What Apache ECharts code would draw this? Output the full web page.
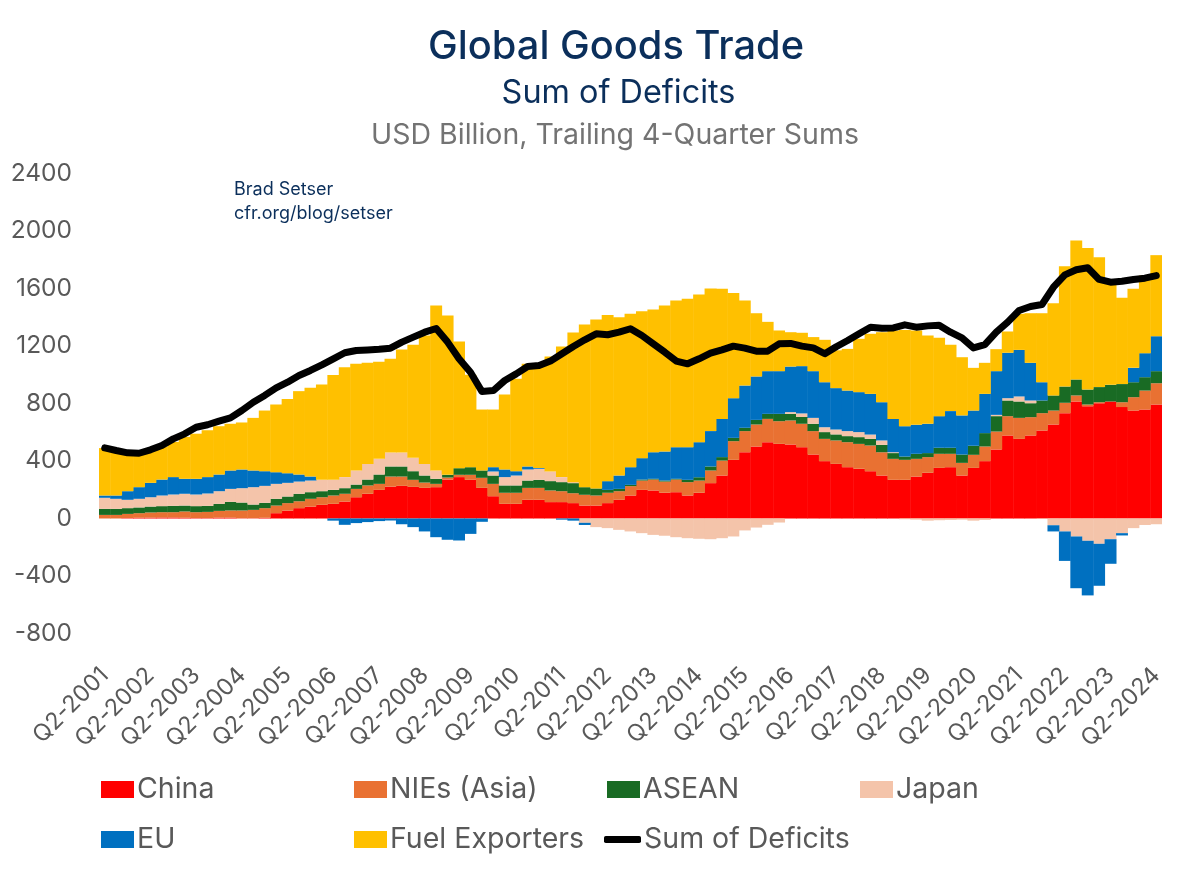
<!DOCTYPE html>
<html>
<head>
<meta charset="utf-8">
<style>
  html, body { margin: 0; padding: 0; background: #fff; }
  #chart { width: 1200px; height: 872px; }
</style>
<script src="https://cdn.jsdelivr.net/npm/echarts@6/dist/echarts.min.js"></script>
</head>
<body>
<div id="chart"></div>
<script>
const quarters = [
  "Q2-2001","Q3-2001","Q4-2001","Q1-2002","Q2-2002","Q3-2002","Q4-2002","Q1-2003",
  "Q2-2003","Q3-2003","Q4-2003","Q1-2004","Q2-2004","Q3-2004","Q4-2004","Q1-2005",
  "Q2-2005","Q3-2005","Q4-2005","Q1-2006","Q2-2006","Q3-2006","Q4-2006","Q1-2007",
  "Q2-2007","Q3-2007","Q4-2007","Q1-2008","Q2-2008","Q3-2008","Q4-2008","Q1-2009",
  "Q2-2009","Q3-2009","Q4-2009","Q1-2010","Q2-2010","Q3-2010","Q4-2010","Q1-2011",
  "Q2-2011","Q3-2011","Q4-2011","Q1-2012","Q2-2012","Q3-2012","Q4-2012","Q1-2013",
  "Q2-2013","Q3-2013","Q4-2013","Q1-2014","Q2-2014","Q3-2014","Q4-2014","Q1-2015",
  "Q2-2015","Q3-2015","Q4-2015","Q1-2016","Q2-2016","Q3-2016","Q4-2016","Q1-2017",
  "Q2-2017","Q3-2017","Q4-2017","Q1-2018","Q2-2018","Q3-2018","Q4-2018","Q1-2019",
  "Q2-2019","Q3-2019","Q4-2019","Q1-2020","Q2-2020","Q3-2020","Q4-2020","Q1-2021",
  "Q2-2021","Q3-2021","Q4-2021","Q1-2022","Q2-2022","Q3-2022","Q4-2022","Q1-2023",
  "Q2-2023","Q3-2023","Q4-2023","Q1-2024","Q2-2024"
]

const china = [
  0,0,3,5,6,7,7,5,3,3,
  6,6,2,2,5,37,55,72,83,95,
  102,118,148,172,199,222,227,220,213,218,
  271,288,269,213,155,102,102,130,130,114,
  114,107,90,90,107,130,160,199,195,179,
  183,160,179,246,299,408,461,501,531,519,
  515,496,445,399,380,357,346,329,299,269,
  269,292,318,352,357,299,352,399,480,577,
  554,577,612,654,733,814,781,802,814,775,
  751,758,793
]
const nies = [
  25,25,29,32,36,37,37,44,41,43,
  47,50,54,58,67,53,52,48,54,53,
  58,54,58,58,42,70,65,49,37,23,
  14,16,35,70,86,77,77,83,83,81,
  76,69,75,70,72,60,65,65,76,78,
  88,93,85,88,104,130,147,153,162,158,
  167,163,163,155,163,174,173,179,162,146,
  139,123,109,98,93,88,91,102,125,135,
  146,128,121,97,72,42,12,7,0,34,
  93,132,148
]
const asean = [
  42,42,40,40,41,42,44,41,42,42,
  49,60,55,37,37,47,46,52,46,42,
  39,39,30,41,65,70,70,60,49,35,
  19,46,53,51,58,51,51,51,56,65,
  63,70,53,49,20,16,9,7,5,7,
  5,16,23,28,24,23,23,32,35,51,
  46,47,51,47,42,42,47,46,51,40,
  23,35,28,42,42,58,63,93,107,109,
  114,97,88,105,113,111,104,105,116,126,
  104,93,84
]
const japan = [
  77,70,58,60,65,74,79,82,81,86,
  88,90,100,121,118,104,95,85,81,79,
  70,77,98,109,109,97,97,93,81,58,
  0,0,0,0,28,58,69,77,77,67,
  35,7,-30,-60,-67,-79,-90,-102,-114,-120,
  -130,-137,-141,-144,-137,-125,-83,-63,-44,-28,
  12,25,41,34,34,35,35,30,31,6,
  -5,-8,-15,-12,-10,-8,-15,-10,9,16,
  35,19,-3,-47,-90,-125,-155,-176,-144,-102,
  -67,-45,-40
]
const eu = [
  16,23,60,81,100,111,121,104,109,114,
  116,128,130,116,102,81,67,49,28,0,
  -15,-44,-32,-25,-18,-14,-40,-60,-90,-130,
  -148,-153,-107,-23,30,53,30,21,6,0,
  -8,-15,-15,0,61,93,123,149,185,202,
  220,227,244,246,266,276,294,302,297,297,
  317,329,325,313,288,282,278,283,266,232,
  211,202,204,220,255,272,245,273,304,316,
  324,262,127,-43,-205,-360,-380,-292,-171,-16,
  100,167,243
]
const fuel = [
  330,310,260,237,227,227,245,292,314,326,
  336,325,327,366,422,471,517,580,617,663,
  730,765,742,703,675,652,717,786,893,1148,
  1108,881,643,424,401,522,643,714,729,800,
  909,1041,1132,1175,1155,1101,1067,1022,993,1016,
  1021,1032,1027,992,905,731,592,440,343,283,
  239,232,237,295,263,290,371,418,487,615,
  670,656,614,545,461,405,297,216,153,148,
  251,345,480,642,837,967,984,904,726,600,
  550,540,564
]
const sumOfDeficits = [
  491,473,457,454,478,508,554,589,635,652,
  677,700,751,809,856,909,948,995,1030,1069,
  1111,1153,1169,1173,1178,1185,1227,1262,1296,1322,
  1227,1111,1018,884,890,960,1006,1057,1064,1095,
  1146,1197,1243,1285,1278,1296,1320,1273,1215,1157,
  1095,1076,1111,1150,1173,1199,1185,1164,1164,1215,
  1218,1199,1187,1146,1195,1238,1285,1331,1324,1326,
  1347,1331,1340,1345,1296,1257,1187,1210,1296,1366,
  1447,1475,1489,1609,1695,1730,1744,1663,1644,1651,
  1663,1672,1690
]

const font = "Inter"
const grey = "#595959"
const navy = "#0b2f5b"

const barSeries = [
  {name: "China", data: china, color: "#ff0000"},
  {name: "NIEs (Asia)", data: nies, color: "#e97132"},
  {name: "ASEAN", data: asean, color: "#196b24"},
  {name: "Japan", data: japan, color: "#f4c4aa"},
  {name: "EU", data: eu, color: "#0070c0"},
  {name: "Fuel Exporters", data: fuel, color: "#ffc000"}
]

// legend sits in two rows of fixed columns
const legendSlots = [
  {name: "China", left: 101, top: 775},
  {name: "NIEs (Asia)", left: 354, top: 775},
  {name: "ASEAN", left: 607, top: 775},
  {name: "Japan", left: 860, top: 775},
  {name: "EU", left: 101, top: 825},
  {name: "Fuel Exporters", left: 354, top: 825},
  {name: "Sum of Deficits", left: 604, top: 825}
]

var chart = echarts.init(document.getElementById("chart"), null, {renderer: "canvas"})

var option = {
  animation: false,
  backgroundColor: "#fff",
  textStyle: {fontFamily: font},
  title: [
    {text: "Global Goods Trade", left: 611, top: 22, textAlign: "center",
      textStyle: {fontFamily: font, fontSize: 39.8, fontWeight: 500, color: navy}},
    {text: "Sum of Deficits", left: 613.5, top: 72, textAlign: "center",
      textStyle: {fontFamily: font, fontSize: 32.4, fontWeight: 400, color: navy}},
    {text: "USD Billion, Trailing 4-Quarter Sums", left: 610, top: 116, textAlign: "center",
      textStyle: {fontFamily: font, fontSize: 28.5, fontWeight: 400, color: "#737373"}},
    {text: "Brad Setser\ncfr.org/blog/setser", left: 229, top: 173,
      textStyle: {fontFamily: font, fontSize: 18, fontWeight: 400, color: navy, lineHeight: 24}}
  ],
  legend: legendSlots.map(s => ({
    data: [s.name],
    left: s.left,
    top: s.top,
    itemWidth: s.name == "Sum of Deficits" ? 37 : 33,
    itemHeight: s.name == "Sum of Deficits" ? 7 : 17,
    itemGap: 0,
    padding: 0,
    icon: s.name == "Sum of Deficits" ? "roundRect" : "rect",
    selectedMode: false,
    textStyle: {fontFamily: font, fontSize: 28.5, color: grey, padding: [0, 0, 0, -2]}
  })),
  grid: {left: 99, right: 38, top: 173.5, height: 460},
  xAxis: {
    type: "category",
    data: quarters,
    axisLine: {show: false},
    axisTick: {show: false},
    axisLabel: {
      interval: 3,
      rotate: 45,
      margin: 38,
      fontFamily: font,
      fontSize: 23.5,
      color: grey
    }
  },
  yAxis: {
    type: "value",
    min: -800,
    max: 2400,
    interval: 400,
    splitLine: {show: false},
    axisLine: {show: false},
    axisTick: {show: false},
    axisLabel: {
      margin: 27,
      fontFamily: font,
      fontSize: 24.5,
      color: grey,
      formatter: v => String(v)
    }
  },
  series: barSeries.map(s => ({
    name: s.name,
    type: "bar",
    stack: "total",
    data: s.data,
    barWidth: "104%",
    itemStyle: {color: s.color},
    emphasis: {disabled: true}
  })).concat([{
    name: "Sum of Deficits",
    type: "line",
    data: sumOfDeficits,
    symbol: "none",
    z: 5,
    lineStyle: {color: "#000", width: 7, cap: "round", join: "round"},
    itemStyle: {color: "#000"}
  }])
}

chart.setOption(option)
</script>
</body>
</html>
